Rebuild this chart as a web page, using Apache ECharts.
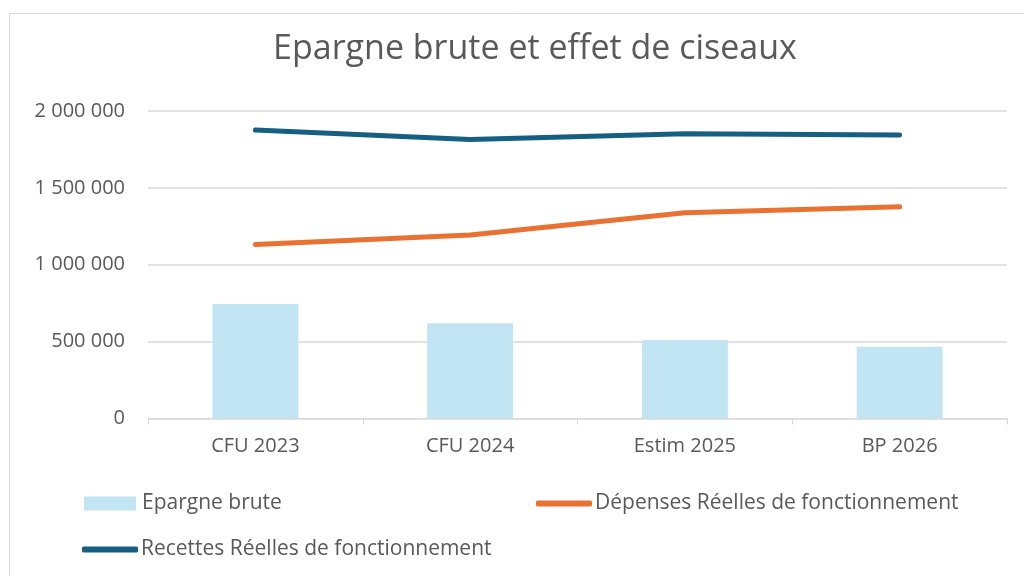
<!DOCTYPE html>
<html>
<head>
<meta charset="utf-8">
<script src="https://cdn.jsdelivr.net/npm/echarts@6/dist/echarts.min.js"></script>
<style>
  html, body { margin: 0; padding: 0; background: #fff; }
  #chart { width: 1024px; height: 576px; }
</style>
</head>
<body>
<div id="chart"></div>
<script>
const categories = ['CFU 2023', 'CFU 2024', 'Estim 2025', 'BP 2026']
const epargneBrute = [745000, 620000, 511000, 466000]
const depenses = [1131000, 1194000, 1338000, 1377000]
const recettes = [1876000, 1815000, 1852000, 1844000]
const yTicks = [0, 500000, 1000000, 1500000, 2000000]

const textColor = '#595959'
const font = 'Open Sans'

// espace comme séparateur de milliers
const fmt = (v) => String(v).replace(/\B(?=(\d{3})+(?!\d))/g, ' ')

const chart = echarts.init(document.getElementById('chart'))

chart.setOption({
  animation: false,
  backgroundColor: '#fff',
  graphic: [
    {
      type: 'rect',
      shape: { x: 9.5, y: 13.5, width: 1100, height: 700 },
      style: { fill: 'none', stroke: '#d9d9d9', lineWidth: 1 }
    }
  ],
  title: {
    text: 'Epargne brute et effet de ciseaux',
    left: 530,
    top: 27,
    textAlign: 'center',
    textStyle: { color: textColor, fontSize: 34, fontWeight: 'normal', fontFamily: font }
  },
  legend: [
    {
      data: [{ name: 'Epargne brute', icon: 'rect' }],
      left: 79, top: 488,
      itemWidth: 52, itemHeight: 14, itemGap: 4,
      textStyle: { color: textColor, fontSize: 21, fontFamily: font, padding: [0, 0, 0, 1] }
    },
    {
      data: [{ name: 'Dépenses Réelles de fonctionnement', icon: 'roundRect' }],
      left: 531, top: 488,
      itemWidth: 56, itemHeight: 6, itemGap: 4,
      textStyle: { color: textColor, fontSize: 21, fontFamily: font, padding: [0, 0, 0, -2] }
    },
    {
      data: [{ name: 'Recettes Réelles de fonctionnement', icon: 'roundRect' }],
      left: 77, top: 534,
      itemWidth: 56, itemHeight: 6, itemGap: 4,
      textStyle: { color: textColor, fontSize: 21, fontFamily: font, padding: [0, 0, 0, -2] }
    }
  ],
  grid: { left: 148, right: 17, top: 111, bottom: 157.5, containLabel: false },
  xAxis: {
    type: 'category',
    data: categories,
    axisLine: { lineStyle: { color: '#d9d9d9', width: 1 } },
    axisTick: { show: true, length: 6, lineStyle: { color: '#d9d9d9' } },
    axisLabel: { color: textColor, fontSize: 20, fontFamily: font, margin: 18 }
  },
  yAxis: {
    type: 'value',
    min: yTicks[0],
    max: yTicks[yTicks.length - 1],
    interval: yTicks[1] - yTicks[0],
    axisLine: { show: false },
    axisTick: { show: false },
    splitLine: { lineStyle: { color: '#d9d9d9', width: 1.5 } },
    axisLabel: { color: textColor, fontSize: 20, fontFamily: font, margin: 23, formatter: fmt }
  },
  series: [
    {
      name: 'Epargne brute',
      type: 'bar',
      data: epargneBrute,
      barWidth: '40%',
      itemStyle: { color: '#c2e5f4' }
    },
    {
      name: 'Dépenses Réelles de fonctionnement',
      type: 'line',
      data: depenses,
      symbol: 'none',
      lineStyle: { color: '#e97132', width: 5, cap: 'round', join: 'round' },
      itemStyle: { color: '#e97132' }
    },
    {
      name: 'Recettes Réelles de fonctionnement',
      type: 'line',
      data: recettes,
      symbol: 'none',
      lineStyle: { color: '#156082', width: 5, cap: 'round', join: 'round' },
      itemStyle: { color: '#156082' }
    }
  ]
})
</script>
</body>
</html>
